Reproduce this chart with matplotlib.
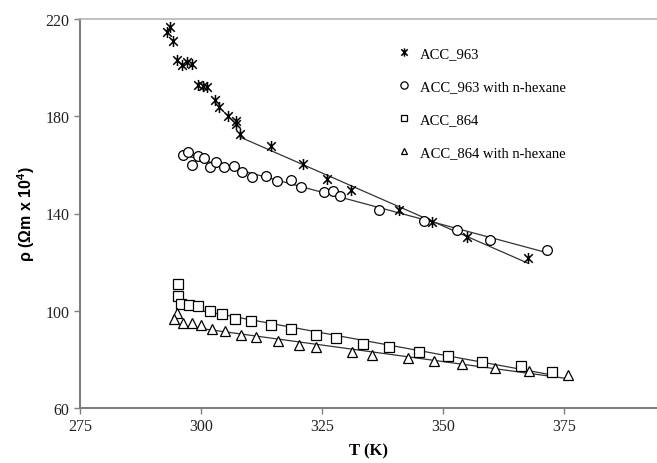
import numpy as np
import matplotlib
matplotlib.use("Agg")
from matplotlib import pyplot as plt
from matplotlib.path import Path

# ACC_963
t_963 = [293.6, 292.9, 294.2, 295.0, 296.0, 297.2, 298.2, 299.3, 300.4, 301.3,
         302.9, 303.8, 305.5, 307.2, 307.2, 308.1, 314.4, 321.0, 326.0, 330.9,
         340.9, 347.7, 354.9, 367.6]
r_963 = [216.7, 214.5, 211.1, 203.1, 201.1, 202.4, 201.5, 192.8, 192.3, 191.9,
         186.8, 183.7, 180.0, 178.1, 176.8, 172.7, 167.6, 160.3, 154.2, 149.8,
         141.4, 136.7, 130.4, 121.5]

# ACC_963 with n-hexane
t_963h = [296.2, 297.4, 298.2, 299.3, 300.6, 301.9, 303.1, 304.8, 306.9, 308.5,
          310.6, 313.4, 315.8, 318.5, 320.7, 325.5, 327.3, 328.7, 336.8, 346.1,
          352.8, 359.7, 371.5]
r_963h = [164.2, 165.4, 159.9, 163.7, 162.7, 159.0, 161.3, 159.0, 159.6, 157.2,
          154.9, 155.5, 153.5, 153.7, 150.7, 148.9, 149.3, 147.0, 141.4, 137.0,
          133.3, 129.2, 124.9]

# ACC_864
t_864 = [295.3, 295.3, 295.9, 297.6, 299.4, 301.9, 304.3, 307.0, 310.3, 314.5,
         318.6, 323.8, 327.9, 333.4, 338.9, 345.0, 351.0, 358.1, 366.1, 372.6]
r_864 = [110.9, 106.1, 102.9, 102.3, 102.0, 99.7, 98.5, 96.8, 95.7, 94.3,
         92.4, 89.9, 88.6, 86.5, 85.2, 83.1, 81.4, 79.1, 77.3, 75.0]

# ACC_864 with n-hexane
t_864h = [295.0, 294.4, 296.2, 298.1, 300.0, 302.2, 305.0, 308.3, 311.4, 316.0,
          320.2, 323.8, 331.1, 335.3, 342.7, 348.1, 354.0, 360.7, 367.8, 375.8]
r_864h = [98.9, 96.8, 94.9, 94.9, 94.1, 92.4, 91.7, 90.1, 89.0, 87.4,
          85.8, 84.9, 83.0, 81.7, 80.5, 79.4, 78.0, 76.6, 75.4, 73.5]

labels = ["ACC_963", "ACC_963 with n-hexane", "ACC_864", "ACC_864 with n-hexane"]
xticks = [275, 300, 325, 350, 375]
yticks = [60, 100, 140, 180, 220]

# excel style star: an x with a vertical bar
star = Path([(-1, -1), (1, 1), (-1, 1), (1, -1), (0, -1.3), (0, 1.3)],
            [Path.MOVETO, Path.LINETO, Path.MOVETO, Path.LINETO, Path.MOVETO, Path.LINETO])

fig = plt.figure(figsize=(6.57, 4.64), dpi=100)
ax = fig.add_axes([80 / 657, 1 - 409 / 464, 1 - 80 / 657, (409 - 20) / 464])

def fit_line(t, r, t0, t1):
    t = np.array(t)
    r = np.array(r)
    m = (t >= t0) & (t <= t1)
    p = np.polyfit(t[m], r[m], 1)
    xx = np.array([t[m].min(), t[m].max()])
    ax.plot(xx, np.polyval(p, xx), color="#333333", lw=0.9, zorder=1)

fit_line(t_963, r_963, 308, 400)
fit_line(t_963h, r_963h, 296, 400)
fit_line(t_864, r_864, 295.8, 400)
fit_line(t_864h, r_864h, 295.5, 400)

ax.plot(t_963, r_963, ls="none", marker=star, ms=8, mec="black", mew=1.1,
        label=labels[0])
ax.plot(t_963h, r_963h, ls="none", marker="o", ms=7, mfc="white", mec="black",
        mew=0.9, label=labels[1])
ax.plot(t_864, r_864, ls="none", marker="s", ms=6.5, mfc="white", mec="black",
        mew=0.9, label=labels[2])
ax.plot(t_864h, r_864h, ls="none", marker="^", ms=6.5, mfc="white", mec="black",
        mew=0.9, label=labels[3])

ax.set_xlim(275, 275 + (657 - 80) / 4.84)
ax.set_ylim(60, 220)
ax.set_xticks(xticks)
ax.set_yticks(yticks)

for s in ["left", "bottom"]:
    ax.spines[s].set_color("#7f7f7f")
    ax.spines[s].set_linewidth(1.5)
ax.spines["right"].set_visible(False)
ax.spines["top"].set_color("#b5b5b5")
ax.spines["top"].set_linewidth(1.2)
ax.tick_params(direction="out", length=4, width=1, color="#7f7f7f",
               labelsize=11.5, labelcolor="#222222")
for lab in ax.get_xticklabels() + ax.get_yticklabels():
    lab.set_family("Liberation Serif")

ax.set_xlabel("T (K)", family="Liberation Serif", fontweight="bold", fontsize=12,
              labelpad=6)
ax.set_ylabel(r"ρ (Ωm x 10$^{\mathregular{4}}$)", family="Liberation Sans",
              fontweight="bold", fontsize=11.5, labelpad=6)

leg = ax.legend(loc="upper left", bbox_to_anchor=(0.528, 0.963), frameon=False,
                prop={"family": "Liberation Serif", "size": 10.5},
                handlelength=0.8, handletextpad=0.7, labelspacing=1.37,
                markerscale=0.75)

fig.savefig("out.png", dpi=100)
